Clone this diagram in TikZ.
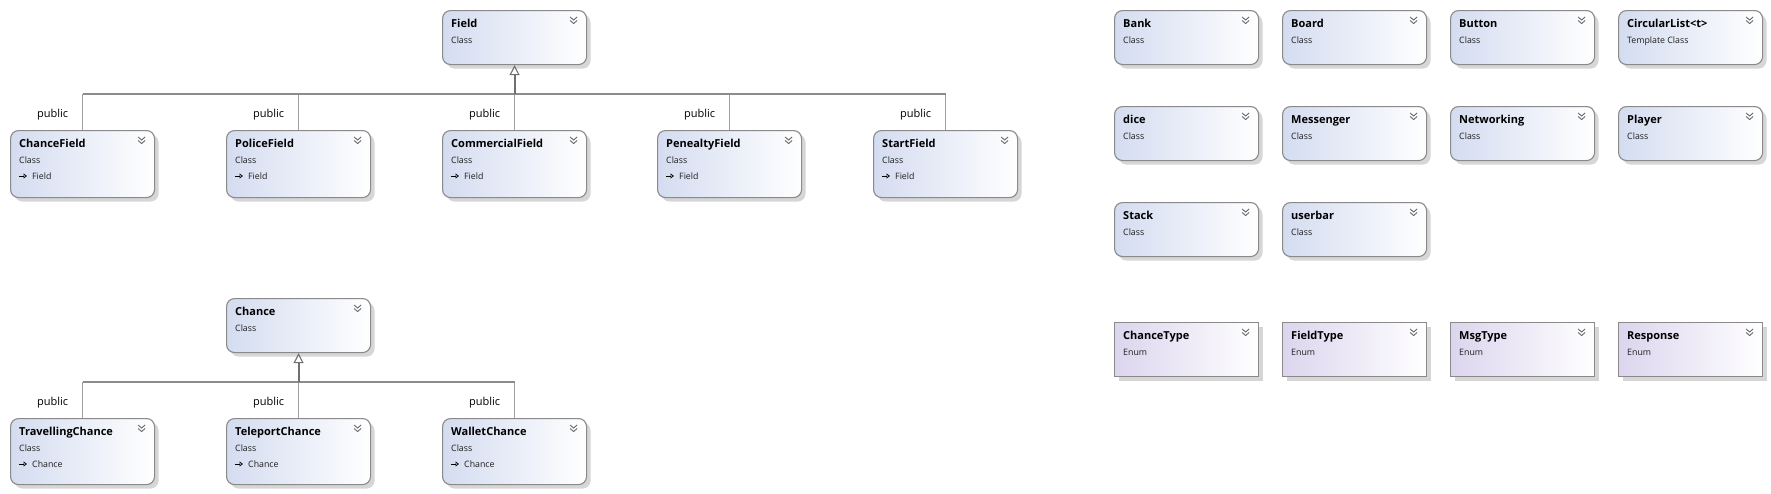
\documentclass[tikz,border=0pt]{standalone}
\usepackage{fontspec}
\setmainfont{Open Sans}
\usetikzlibrary{shadows,arrows.meta}
\definecolor{bordergray}{RGB}{138,138,138}
\definecolor{clsblue}{RGB}{212,220,240}
\definecolor{enmpurple}{RGB}{220,213,238}
\definecolor{shadowgray}{RGB}{214,214,214}
\definecolor{chevgray}{RGB}{105,105,105}
\definecolor{conngray}{RGB}{160,160,160}
\definecolor{busgray}{RGB}{140,140,140}
\definecolor{trunkgray}{RGB}{112,112,112}
\definecolor{subtext}{RGB}{30,30,30}
\tikzset{
  box/.style={draw=bordergray, line width=1.1pt, anchor=north west, minimum width=144pt, inner sep=0pt,
    drop shadow={shadow xshift=4pt, shadow yshift=-4pt, fill=shadowgray, opacity=1}},
  cls/.style={box, rounded corners=8pt, left color=clsblue, right color=white},
  enm/.style={box, left color=enmpurple, right color=white},
  ttl/.style={anchor=base west, inner sep=0pt, font=\fontsize{11}{13}\selectfont\bfseries},
  sub/.style={anchor=base west, inner sep=0pt, font=\fontsize{8.8}{10}\selectfont, text=subtext},
  pub/.style={inner sep=0pt, font=\fontsize{11}{13}\selectfont},
  chev/.style={draw=chevgray, line width=0.9pt},
  conn/.style={draw=conngray, line width=1.1pt},
  bus/.style={draw=busgray, line width=1.3pt},
  trunk/.style={draw=trunkgray, line width=2pt, -{Triangle[open, length=10pt, width=10pt, fill=white, line width=1.1pt]}},
  baseicon/.style={draw=black, line width=0.7pt, -{Triangle[open, length=3.5pt, width=5pt]}},
}
\newcommand\umlbox[7]{%
  \node[#2, minimum height=#5pt] (#1) at (#3,#4) {};
  \node[ttl] (#1-t) at ([xshift=9pt,yshift=-17pt]#1.north west) {#6};
  \node[sub] (#1-s) at ([xshift=9pt,yshift=-33pt]#1.north west) {#7};
  \draw[chev] ([xshift=-17pt,yshift=-7pt]#1.north east) -- ++(3.5,3) -- ++(3.5,-3);
  \draw[chev] ([xshift=-17pt,yshift=-10.5pt]#1.north east) -- ++(3.5,3) -- ++(3.5,-3);
}
\newcommand\umlbase[2]{%
  \draw[baseicon] ([xshift=9pt,yshift=-46pt]#1.north west) -- ++(8,0);
  \node[sub] (#1-b) at ([xshift=22pt,yshift=-49pt]#1.north west) {#2};
}
\begin{document}
\begin{tikzpicture}[x=1pt,y=-1pt]
\useasboundingbox[fill=white] (0,0) rectangle (1771,493);

% Field hierarchy
\umlbox{field}{cls}{442}{10}{54}{Field}{Class}
\umlbox{cf}{cls}{10}{130}{67}{ChanceField}{Class}
\umlbox{pf}{cls}{226}{130}{67}{PoliceField}{Class}
\umlbox{cmf}{cls}{442}{130}{67}{CommercialField}{Class}
\umlbox{penf}{cls}{657}{130}{67}{PenealtyField}{Class}
\umlbox{sf}{cls}{873}{130}{67}{StartField}{Class}
\foreach \c in {cf,pf,cmf,penf,sf} {\umlbase{\c}{Field}}
\coordinate (busA) at (0,94);
\foreach \c in {cf,pf,cmf,penf,sf} {
  \draw[conn] (\c.north) -- (\c.north |- busA);
  \node[pub] (\c-p) at ([xshift=-30pt,yshift=15pt]\c.north) {public};
}
\draw[bus] (cf.north |- busA) -- (sf.north |- busA);
\draw[trunk] (field.south |- busA) -- (field.south);

% Chance hierarchy
\umlbox{chance}{cls}{226}{298}{54}{Chance}{Class}
\umlbox{tc}{cls}{10}{418}{66}{TravellingChance}{Class}
\umlbox{tpc}{cls}{226}{418}{66}{TeleportChance}{Class}
\umlbox{wc}{cls}{442}{418}{66}{WalletChance}{Class}
\foreach \c in {tc,tpc,wc} {\umlbase{\c}{Chance}}
\coordinate (busB) at (0,382);
\foreach \c in {tc,tpc,wc} {
  \draw[conn] (\c.north) -- (\c.north |- busB);
  \node[pub] (\c-p) at ([xshift=-30pt,yshift=15pt]\c.north) {public};
}
\draw[bus] (tc.north |- busB) -- (wc.north |- busB);
\draw[trunk] (chance.south |- busB) -- (chance.south);

% Standalone classes
\umlbox{bank}{cls}{1114}{10}{54}{Bank}{Class}
\umlbox{board}{cls}{1282}{10}{54}{Board}{Class}
\umlbox{button}{cls}{1450}{10}{54}{Button}{Class}
\umlbox{clist}{cls}{1618}{10}{54}{CircularList<t>}{Template Class}
\umlbox{dice}{cls}{1114}{106}{54}{dice}{Class}
\umlbox{msgr}{cls}{1282}{106}{54}{Messenger}{Class}
\umlbox{netw}{cls}{1450}{106}{54}{Networking}{Class}
\umlbox{player}{cls}{1618}{106}{54}{Player}{Class}
\umlbox{stack}{cls}{1114}{202}{54}{Stack}{Class}
\umlbox{ubar}{cls}{1282}{202}{54}{userbar}{Class}

% Enums
\umlbox{ctype}{enm}{1114}{322}{54}{ChanceType}{Enum}
\umlbox{ftype}{enm}{1282}{322}{54}{FieldType}{Enum}
\umlbox{mtype}{enm}{1450}{322}{54}{MsgType}{Enum}
\umlbox{resp}{enm}{1618}{322}{54}{Response}{Enum}
\end{tikzpicture}
\end{document}
